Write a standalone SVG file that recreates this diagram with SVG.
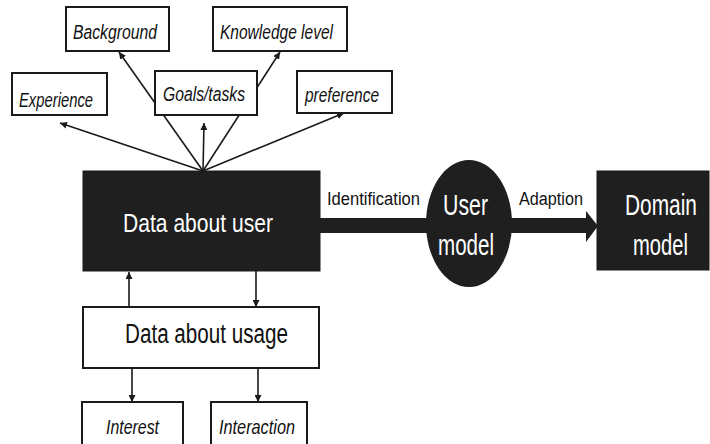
<svg xmlns="http://www.w3.org/2000/svg" width="710" height="444" viewBox="0 0 710 444">
  <defs>
    <marker id="head" viewBox="0 0 10 10" refX="10" refY="5" markerWidth="7" markerHeight="7" markerUnits="userSpaceOnUse" orient="auto">
      <path d="M0,0 L10,5 L0,10 z" fill="#1a1a1a"/>
    </marker>
    <style>
      .box { fill: #ffffff; stroke: #1a1a1a; stroke-width: 2; }
      .dark { fill: #1f1f1f; stroke: #1a1a1a; stroke-width: 1; }
      .link { stroke: #1a1a1a; stroke-width: 1.6; fill: none; marker-end: url(#head); }
      .lbl { font-family: "Liberation Sans", Arial, sans-serif; font-style: italic; fill: #111111; }
      .txt { font-family: "Liberation Sans", Arial, sans-serif; fill: #111111; }
      .inv { font-family: "Liberation Sans", Arial, sans-serif; fill: #ffffff; }
    </style>
  </defs>

  <rect width="710" height="444" fill="#ffffff"/>

  <!-- connectors -->
  <g id="connectors">
    <line class="link" x1="203" y1="171" x2="60" y2="123"/>
    <line class="link" x1="203" y1="171" x2="119" y2="52"/>
    <line class="link" x1="203" y1="171" x2="280" y2="52"/>
    <line class="link" x1="203" y1="171" x2="204" y2="123"/>
    <line class="link" x1="203" y1="171" x2="344" y2="113"/>
    <line class="link" x1="129" y1="307" x2="129" y2="272"/>
    <line class="link" x1="256" y1="271" x2="256" y2="307"/>
    <line class="link" x1="132" y1="368" x2="132" y2="402"/>
    <line class="link" x1="258" y1="368" x2="258" y2="402"/>
    <!-- broad flow arrows -->
    <rect x="319" y="218" width="110" height="15" fill="#1f1f1f"/>
    <rect x="509" y="218" width="79" height="15" fill="#1f1f1f"/>
    <polygon points="586,211 598,226 586,242" fill="#1f1f1f"/>
    <text class="txt" x="327" y="205" font-size="18" textLength="93" lengthAdjust="spacingAndGlyphs">Identification</text>
    <text class="txt" x="519" y="205" font-size="18" textLength="64" lengthAdjust="spacingAndGlyphs">Adaption</text>
  </g>

  <g id="background">
    <rect class="box" x="66" y="7" width="103" height="44"/>
    <text class="lbl" x="73" y="39" font-size="20" textLength="84" lengthAdjust="spacingAndGlyphs">Background</text>
  </g>
  <g id="knowledge-level">
    <rect class="box" x="213" y="7" width="134" height="44"/>
    <text class="lbl" x="220" y="39" font-size="20" textLength="113" lengthAdjust="spacingAndGlyphs">Knowledge level</text>
  </g>
  <g id="experience">
    <rect class="box" x="12" y="73" width="95" height="42"/>
    <text class="lbl" x="19" y="107" font-size="21" textLength="74" lengthAdjust="spacingAndGlyphs">Experience</text>
  </g>
  <g id="goals-tasks">
    <rect class="box" x="155" y="71" width="102" height="44"/>
    <text class="lbl" x="163" y="101" font-size="20" textLength="82" lengthAdjust="spacingAndGlyphs">Goals/tasks</text>
  </g>
  <g id="preference">
    <rect class="box" x="297" y="71" width="95" height="42"/>
    <text class="lbl" x="305" y="102" font-size="20" textLength="74" lengthAdjust="spacingAndGlyphs">preference</text>
  </g>

  <g id="data-about-user">
    <rect class="dark" x="83" y="171" width="237" height="100"/>
    <text class="inv" x="123" y="232" font-size="26" textLength="150" lengthAdjust="spacingAndGlyphs">Data about user</text>
  </g>

  <g id="user-model">
    <ellipse cx="469" cy="223.5" rx="43" ry="63.5" fill="#1f1f1f"/>
    <text class="inv" x="443" y="215" font-size="30" textLength="45" lengthAdjust="spacingAndGlyphs">User</text>
    <text class="inv" x="438" y="255" font-size="30" textLength="56" lengthAdjust="spacingAndGlyphs">model</text>
  </g>

  <g id="domain-model">
    <rect class="dark" x="597" y="171" width="112" height="99"/>
    <text class="inv" transform="translate(625,215) scale(0.696,1)" font-size="30">Domain</text>
    <text class="inv" transform="translate(633,255) scale(0.673,1)" font-size="30">model</text>
  </g>

  <g id="data-about-usage">
    <rect class="box" x="83" y="307" width="236" height="61"/>
    <text class="txt" x="125" y="343" font-size="27" textLength="163" lengthAdjust="spacingAndGlyphs">Data about usage</text>
  </g>

  <g id="interest">
    <rect class="box" x="82" y="402" width="101" height="50"/>
    <text class="lbl" x="106" y="434" font-size="21" textLength="53" lengthAdjust="spacingAndGlyphs">Interest</text>
  </g>
  <g id="interaction">
    <rect class="box" x="211" y="402" width="96" height="50"/>
    <text class="lbl" x="219" y="434" font-size="21" textLength="76" lengthAdjust="spacingAndGlyphs">Interaction</text>
  </g>
</svg>
